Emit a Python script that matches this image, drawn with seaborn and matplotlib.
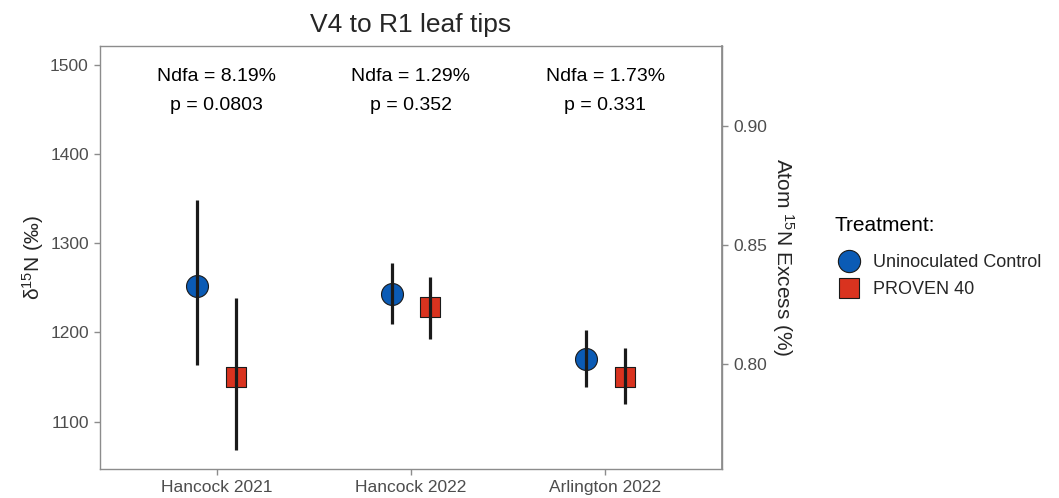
import numpy as np
import pandas as pd
import matplotlib
matplotlib.use("Agg")
import matplotlib.pyplot as plt
from matplotlib.lines import Line2D
import seaborn as sns

# ---- data -------------------------------------------------------------
sites = ["Hancock 2021", "Hancock 2022", "Arlington 2022"]
treatments = ["Uninoculated Control", "PROVEN 40"]

control_mean = [1252, 1243, 1170]
control_low = [1163, 1209, 1139]
control_high = [1349, 1278, 1203]

proven_mean = [1150, 1228, 1150]
proven_low = [1068, 1193, 1120]
proven_high = [1239, 1262, 1182]

ndfa_labels = ["8.19%", "1.29%", "1.73%"]
p_labels = ["0.0803", "0.352", "0.331"]

# linear conversion from delta 15N (permil) to atom 15N excess (%)
atom_intercept = 0.364
atom_slope = 0.0003744

# ---- styling ----------------------------------------------------------
sns.set_theme(style="white")
plt.rcParams["font.family"] = ["Liberation Sans", "DejaVu Sans"]
plt.rcParams["mathtext.fontset"] = "custom"
plt.rcParams["mathtext.rm"] = "Liberation Sans"
plt.rcParams["mathtext.it"] = "Liberation Sans:italic"
plt.rcParams["mathtext.bf"] = "Liberation Sans:bold"

colors = {"Uninoculated Control": "#0B5BB5", "PROVEN 40": "#D9331F"}
markers = {"Uninoculated Control": "o", "PROVEN 40": "s"}
sizes = {"Uninoculated Control": 250, "PROVEN 40": 200}
offsets = {"Uninoculated Control": -0.1, "PROVEN 40": 0.1}

frames = []
for trt, m, lo, hi in [
    ("Uninoculated Control", control_mean, control_low, control_high),
    ("PROVEN 40", proven_mean, proven_low, proven_high),
]:
    frames.append(pd.DataFrame({
        "site": sites, "treatment": trt, "mean": m, "low": lo, "high": hi,
    }))
df = pd.concat(frames, ignore_index=True)
df["site_idx"] = df["site"].map({s: i for i, s in enumerate(sites)})
df["xpos"] = df["site_idx"] + df["treatment"].map(offsets)

fig = plt.figure(figsize=(10.59, 4.98), dpi=100)
ax = fig.add_axes([0.0944, 0.0582, 0.5874, 0.8494])

for trt in treatments:
    sub = df[df["treatment"] == trt]
    sns.scatterplot(data=sub, x="xpos", y="mean", ax=ax, marker=markers[trt],
                    s=sizes[trt], color=colors[trt], edgecolor="#1a1a1a",
                    linewidth=0.8, zorder=3, legend=False)

# error ranges drawn over the points
ax.vlines(df["xpos"], df["low"], df["high"], color="#1a1a1a",
          linewidth=2.3, zorder=4)

# Ndfa / p annotations
for i in range(len(sites)):
    ax.text(i, 1470.5, f"Ndfa = {ndfa_labels[i]}\np = {p_labels[i]}",
            ha="center", va="center", fontsize=14, color="black",
            linespacing=1.9)

ax.set_xlim(-0.6, 2.6)
ax.set_ylim(1046.7, 1521.3)
ax.set_xticks(range(len(sites)))
ax.set_xticklabels(sites)
ax.set_yticks([1100, 1200, 1300, 1400, 1500])
ax.set_xlabel("")
ax.set_ylabel("δ$^{15}$N (‰)", fontsize=15, labelpad=3)
ax.set_title("V4 to R1 leaf tips", fontsize=19, pad=10)

spine_color = "#8c8c8c"
for sp in ax.spines.values():
    sp.set_color(spine_color)
    sp.set_linewidth(1.0)

ax.tick_params(axis="both", which="major", length=4, width=1,
               color=spine_color, labelcolor="#4d4d4d", labelsize=12.5,
               bottom=True, left=True, pad=4)

secax = ax.secondary_yaxis(
    "right",
    functions=(lambda d: atom_intercept + atom_slope * d,
               lambda a: (a - atom_intercept) / atom_slope),
)
secax.set_yticks([0.80, 0.85, 0.90])
secax.set_yticklabels(["0.80", "0.85", "0.90"])
secax.spines["right"].set_color(spine_color)
secax.tick_params(axis="y", length=4, width=1, color=spine_color,
                  labelcolor="#4d4d4d", labelsize=12.5, pad=4)
secax.set_ylabel("Atom $^{15}$N Excess (%)", fontsize=15, rotation=270,
                 labelpad=21)

# legend: title placed above the keys with extra room, as in ggplot
fig.text(0.788, 1 - 225 / 498, "Treatment:", fontsize=15, ha="left",
         va="center", color="black")
handles = [
    Line2D([], [], marker="o", linestyle="none", markersize=16,
           markerfacecolor=colors["Uninoculated Control"],
           markeredgecolor="#1a1a1a", markeredgewidth=0.8),
    Line2D([], [], marker="s", linestyle="none", markersize=14,
           markerfacecolor=colors["PROVEN 40"],
           markeredgecolor="#1a1a1a", markeredgewidth=0.8),
]
leg = fig.legend(handles, treatments,
                 loc="center left", bbox_to_anchor=(0.783, 1 - 276 / 498),
                 frameon=False, fontsize=13,
                 handlelength=1.2, handletextpad=0.75, labelspacing=0.55,
                 borderpad=0)

fig.savefig("out.png", dpi=100)
